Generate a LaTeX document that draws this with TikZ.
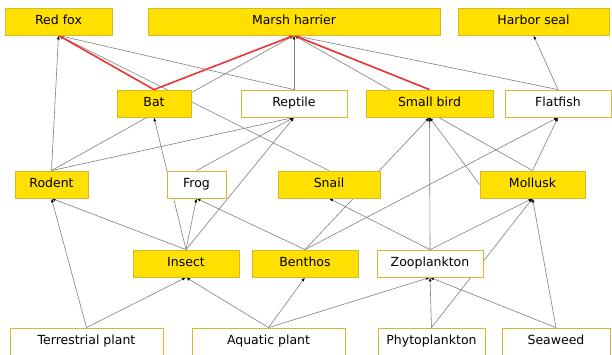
\documentclass[tikz,border=0pt]{standalone}
\usepackage{fontspec}
\setmainfont{DejaVu Sans}
\usepackage{tikz}
\usetikzlibrary{arrows.meta,backgrounds}
\definecolor{boxfill}{HTML}{FFE000}
\definecolor{boxline}{HTML}{D2BA2C}
\definecolor{edgegray}{HTML}{7F7F7F}
\definecolor{pathred}{HTML}{EE3333}

\begin{document}
\begin{tikzpicture}[
  x=1pt, y=-1pt,
  box/.style={draw=boxline, line width=0.8pt, fill=white, minimum height=27pt, inner sep=0pt, text height=9pt, text depth=2.5pt, font=\fontsize{12.5}{14}\selectfont},
  prey/.style={box, fill=boxfill},
  arr/.style={-{Latex[length=4pt,width=3pt,black]}, edgegray, line width=0.6pt},
  redarr/.style={-{Latex[length=5pt,width=4pt]}, pathred, line width=1.6pt}
]
\useasboundingbox (0,0) rectangle (612,354);
% top predators
\node[prey, minimum width=107pt] (redfox) at (58.5,21.5) {Red fox};
\node[prey, minimum width=292pt] (harrier) at (294,21.5) {Marsh harrier};
\node[prey, minimum width=151pt] (seal) at (533.5,21.5) {Harbor seal};
% second row
\node[prey, minimum width=74pt] (bat) at (154,103.5) {Bat};
\node[box, minimum width=106pt] (reptile) at (294,103.5) {Reptile};
\node[prey, minimum width=127pt] (smallbird) at (429.5,103.5) {Small bird};
\node[box, minimum width=106pt] (flatfish) at (558,103.5) {Flatfish};
% third row
\node[prey, minimum width=73pt] (rodent) at (51.5,184.5) {Rodent};
\node[box, minimum width=59pt] (frog) at (196.5,184.5) {Frog};
\node[prey, minimum width=102pt] (snail) at (329,184.5) {Snail};
\node[prey, minimum width=105pt] (mollusk) at (532.5,184.5) {Mollusk};
% fourth row
\node[prey, minimum width=106pt] (insect) at (186,263.5) {Insect};
\node[prey, minimum width=106pt] (benthos) at (305,263.5) {Benthos};
\node[box, minimum width=106pt] (zooplankton) at (430,263.5) {Zooplankton};
% producers
\node[box, minimum width=153pt] (terrplant) at (86.5,341.5) {Terrestrial plant};
\node[box, minimum width=153pt] (aquaplant) at (268.5,341.5) {Aquatic plant};
\node[box, minimum width=107pt] (phyto) at (431.5,341.5) {Phytoplankton};
\node[box, minimum width=108pt] (seaweed) at (556,341.5) {Seaweed};

\begin{scope}[on background layer]
\draw[arr] (rodent.north) -- (redfox.south);
\draw[arr] (snail.north) -- (redfox.south);
\draw[arr] (reptile.north) -- (redfox.south);
\draw[arr] (reptile.north) -- (harrier.south);
\draw[arr] (rodent.north) -- (harrier.south);
\draw[arr] (mollusk.north) -- (harrier.south);
\draw[arr] (flatfish.north) -- (harrier.south);
\draw[arr] (flatfish.north) -- (seal.south);
\draw[arr] (insect.north) -- (bat.south);
\draw[arr] (rodent.north) -- (reptile.south);
\draw[arr] (frog.north) -- (reptile.south);
\draw[arr] (insect.north) -- (reptile.south);
\draw[arr] (benthos.north) -- (smallbird.south);
\draw[arr] (zooplankton.north) -- (smallbird.south);
\draw[arr] (mollusk.west) -- (smallbird.south);
\draw[arr] (mollusk.north) -- (flatfish.south);
\draw[arr] (benthos.north) -- (flatfish.south);
\draw[arr] (insect.north) -- (rodent.south);
\draw[arr] (terrplant.north) -- (rodent.south);
\draw[arr] (insect.north) -- (frog.south);
\draw[arr] (benthos.north) -- (frog.south);
\draw[arr] (zooplankton.north) -- (snail.south);
\draw[arr] (zooplankton.north) -- (mollusk.south);
\draw[arr] (phyto.north) -- (mollusk.south);
\draw[arr] (seaweed.north) -- (mollusk.south);
\draw[arr] (terrplant.north) -- (insect.south);
\draw[arr] (aquaplant.north) -- (insect.south);
\draw[arr] (aquaplant.north) -- (benthos.south);
\draw[arr] (aquaplant.north) -- (zooplankton.south);
\draw[arr] (phyto.north) -- (zooplankton.south);
\draw[arr] (seaweed.north) -- (zooplankton.south);
\end{scope}
% highlighted paths
\draw[redarr] (bat.north) -- (redfox.south);
\draw[redarr] (bat.north) -- (harrier.south);
\draw[redarr] (smallbird.north) -- (harrier.south);
\end{tikzpicture}
\end{document}
